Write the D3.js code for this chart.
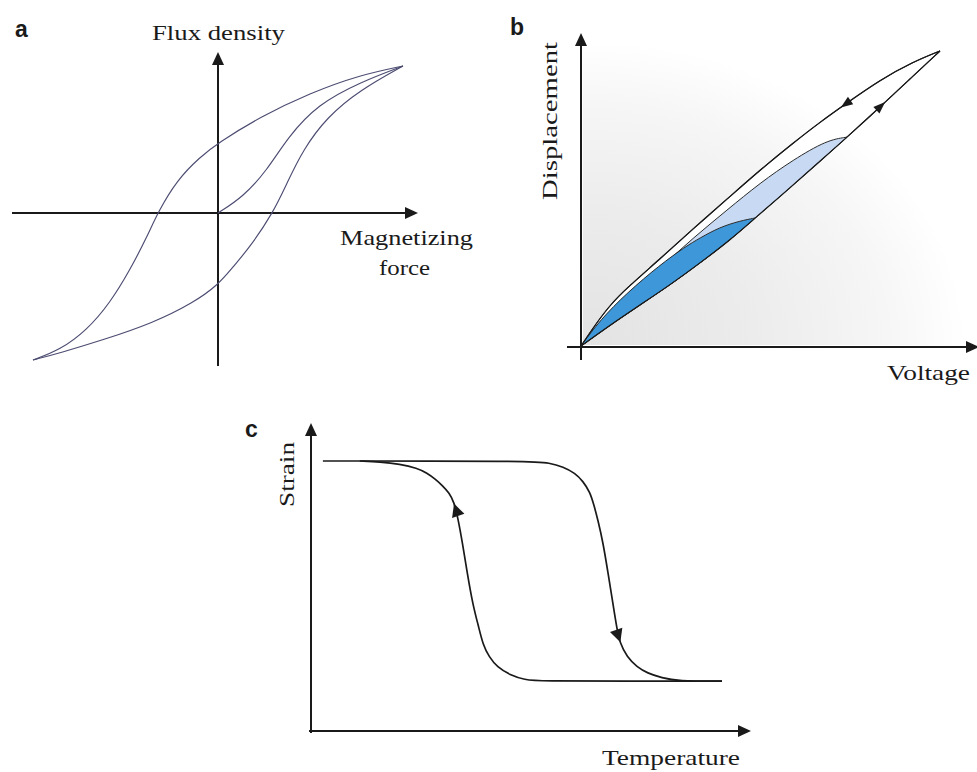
<!DOCTYPE html>
<html><head><meta charset="utf-8">
<script src="https://cdn.jsdelivr.net/npm/d3@7"></script>
<style>body{margin:0;background:#fff}svg{display:block}</style>
</head><body>
<svg id="chart" width="977" height="772"></svg>
<script>
// ---------- Panel a: magnetic hysteresis (H, B), normalised units ----------
const magUpperBranch = [[1,1],[0.768,0.939],[0.497,0.816],[0.227,0.653],[0,0.476],[-0.097,0.381],[-0.222,0.224],[-0.324,0.007],[-0.384,-0.163],[-0.476,-0.388],[-0.584,-0.612],[-0.708,-0.796],[-0.854,-0.932],[-1,-1]];
const magLowerBranch = [[-1,-1],[-0.854,-0.952],[-0.622,-0.864],[-0.351,-0.748],[-0.135,-0.612],[0,-0.49],[0.081,-0.367],[0.173,-0.231],[0.297,0],[0.373,0.204],[0.459,0.429],[0.589,0.653],[0.768,0.837],[1,1]];
const magInitialCurve = [[0,0],[0.135,0.109],[0.265,0.29],[0.378,0.517],[0.54,0.74],[0.768,0.89],[1,1]];

// ---------- Panel b: piezo displacement vs voltage, normalised ----------
const piezoAscending = [[0,0],[0.081,0.071],[0.164,0.139],[0.248,0.207],[0.331,0.281],[0.415,0.359],[0.485,0.434],[0.582,0.536],[0.666,0.627],[0.741,0.708],[0.833,0.81],[0.916,0.905],[1,1]];
const piezoOuterDescending = [[1,1],[0.925,0.963],[0.833,0.902],[0.741,0.824],[0.666,0.759],[0.591,0.688],[0.499,0.597],[0.407,0.498],[0.312,0.397],[0.22,0.295],[0.128,0.197],[0.081,0.139],[0.039,0.071],[0,0]];
const piezoMiddleDescending = [[0.741,0.708],[0.685,0.698],[0.591,0.631],[0.499,0.553],[0.407,0.461],[0.312,0.366],[0.22,0.264],[0.128,0.169],[0.067,0.105],[0,0]];
const piezoInnerDescending = [[0.485,0.434],[0.443,0.424],[0.387,0.403],[0.331,0.366],[0.29,0.336],[0.22,0.275],[0.128,0.18],[0.053,0.088],[0,0]];
const piezoArrowX = [0.724, 0.847];   // on descending outer, on ascending branch

// ---------- Panel c: SMA strain vs temperature ----------
const smaHeating = [[2.7,87.1],[49.8,87.1],[54.3,86.5],[57.3,85.2],[60.0,83.2],[61.8,80.6],[63.4,77.1],[64.3,72.9],[65.2,68.1],[66.4,60.6],[67.5,51.0],[68.6,41.3],[69.5,33.2],[70.2,28.4],[71.8,23.9],[74.1,20.6],[76.4,18.7],[79.8,17.1],[83.2,16.1],[93.4,16.1]];
const smaCooling = [[93.4,16.1],[72.0,16.1],[52.0,16.1],[48.6,16.5],[45.2,18.1],[42.3,20.6],[40.5,23.9],[39.1,27.7],[38.0,34.2],[36.8,40.6],[35.5,51.0],[34.5,60.0],[33.4,68.7],[32.5,73.9],[31.4,76.8],[30.0,79.0],[28.2,81.3],[26.4,83.2],[24.1,84.8],[20.2,86.1],[15.7,86.8],[11.1,87.1]];
const smaArrowX = [70.3, 32.5];       // on heating, on cooling

const panelLabels = ["a", "b", "c"];
const axisTitles = {a: ["Flux density", "Magnetizing", "force"], b: ["Displacement", "Voltage"], c: ["Strain", "Temperature"]};

// ---------- drawing ----------
const svg = d3.select("#chart");
const serif = "'Liberation Serif','Times New Roman',serif";
const ink = "#1a1a1a";

function arrowHead(g, tip, angle, len, wid, color) {
  const dx = Math.cos(angle), dy = Math.sin(angle);
  const bx = tip[0] - dx * len, by = tip[1] - dy * len;
  const px = -dy * wid / 2, py = dx * wid / 2;
  g.append("path")
    .attr("d", `M${tip[0]},${tip[1]}L${bx+px},${by+py}L${bx-px},${by-py}Z`)
    .attr("fill", color || ink);
}
function axisArrow(g, x1, y1, x2, y2) {
  const ang = Math.atan2(y2 - y1, x2 - x1);
  g.append("line").attr("x1", x1).attr("y1", y1)
    .attr("x2", x2 - Math.cos(ang) * 8).attr("y2", y2 - Math.sin(ang) * 8)
    .attr("stroke", ink).attr("stroke-width", 2);
  arrowHead(g, [x2, y2], ang, 13, 12);
}
function arrowOnPath(g, pathSel, targetX, len, wid) {
  const node = pathSel.node();
  const total = node.getTotalLength();
  let best = 0, bestD = 1e9;
  for (let l = 0; l <= total; l += 0.5) {
    const p = node.getPointAtLength(l);
    const d = Math.abs(p.x - targetX);
    if (d < bestD) { bestD = d; best = l; }
  }
  const p = node.getPointAtLength(best);
  const a = node.getPointAtLength(Math.max(0, best - 2));
  const b = node.getPointAtLength(Math.min(total, best + 2));
  arrowHead(g, [p.x, p.y], Math.atan2(b.y - a.y, b.x - a.x), len, wid);
}
function label(text, x, y, len, rotate) {
  const t = svg.append("text").text(text)
    .attr("font-family", serif).attr("font-size", 21).attr("fill", ink)
    .attr("textLength", len).attr("lengthAdjust", "spacingAndGlyphs");
  if (rotate) t.attr("transform", `translate(${x},${y}) rotate(-90)`);
  else t.attr("x", x).attr("y", y);
}
function panelLetter(t, x, y) {
  svg.append("text").text(t).attr("x", x).attr("y", y)
    .attr("font-family", "'Liberation Sans',Arial,sans-serif")
    .attr("font-weight", "bold").attr("font-size", 23).attr("fill", ink);
}

// ----- Panel a -----
{
  const x = d3.scaleLinear().domain([-1, 1]).range([33, 403]);
  const y = d3.scaleLinear().domain([-1, 1]).range([360, 66]);
  const g = svg.append("g");
  axisArrow(g, x(0), 366, x(0), 52);
  axisArrow(g, 12, y(0), 418, y(0));
  const line = d3.line().x(d => x(d[0])).y(d => y(d[1])).curve(d3.curveBasis);
  [magUpperBranch, magLowerBranch, magInitialCurve].forEach(data => {
    g.append("path").attr("d", line(data)).attr("fill", "none")
      .attr("stroke", "#4c4c72").attr("stroke-width", 1.15);
  });
  panelLetter(panelLabels[0], 15, 37);
  label(axisTitles.a[0], 152, 40, 133);
  label(axisTitles.a[1], 340, 245, 133);
  label(axisTitles.a[2], 379, 275, 51);
}

// ----- Panel b -----
{
  const x = d3.scaleLinear().domain([0, 1]).range([581, 940]);
  const y = d3.scaleLinear().domain([0, 1]).range([346, 51]);
  const defs = svg.append("defs");
  const rg = defs.append("radialGradient").attr("id", "bgShade")
    .attr("gradientUnits", "userSpaceOnUse").attr("cx", 585).attr("cy", 345).attr("r", 390)
    .attr("gradientTransform", "translate(585,345) scale(1.25,1) translate(-585,-345)");
  rg.append("stop").attr("offset", 0).attr("stop-color", "#e3e3e3");
  rg.append("stop").attr("offset", 0.35).attr("stop-color", "#ececec");
  rg.append("stop").attr("offset", 0.62).attr("stop-color", "#f6f6f6");
  rg.append("stop").attr("offset", 0.78).attr("stop-color", "#ffffff");
  const g = svg.append("g");
  g.append("rect").attr("x", 583).attr("y", 45).attr("width", 385).attr("height", 300).attr("fill", "url(#bgShade)");

  const line = d3.line().x(d => x(d[0])).y(d => y(d[1])).curve(d3.curveBasis);
  const loop = (asc, desc) => line(asc) + "L" + line(desc).slice(1) + "Z";
  const upTo = tx => piezoAscending.filter(d => d[0] <= tx + 1e-9);

  g.append("path").attr("d", loop(piezoAscending, piezoOuterDescending))
    .attr("fill", "#ffffff").attr("stroke", ink).attr("stroke-width", 1.1);
  g.append("path").attr("d", loop(upTo(piezoMiddleDescending[0][0]), piezoMiddleDescending))
    .attr("fill", "#c8daf3").attr("stroke", "#2a2a2a").attr("stroke-width", 1);
  g.append("path").attr("d", loop(upTo(piezoInnerDescending[0][0]), piezoInnerDescending))
    .attr("fill", "#3d97d8").attr("stroke", "#2a2a2a").attr("stroke-width", 1);

  const outerDesc = g.append("path").attr("d", line(piezoOuterDescending)).attr("fill", "none").attr("stroke", ink).attr("stroke-width", 1.1);
  const asc = g.append("path").attr("d", line(piezoAscending)).attr("fill", "none").attr("stroke", ink).attr("stroke-width", 1.1);
  arrowOnPath(g, outerDesc, x(piezoArrowX[0]), 12, 9);
  arrowOnPath(g, asc, x(piezoArrowX[1]), 12, 9);

  axisArrow(g, x(0), 360, x(0), 33);
  axisArrow(g, 567, y(0) + 1, 979, y(0) + 1);
  panelLetter(panelLabels[1], 510, 35);
  label(axisTitles.b[0], 557, 200, 158, true);
  label(axisTitles.b[1], 887, 380, 83);
}

// ----- Panel c -----
{
  const x = d3.scaleLinear().domain([0, 100]).range([311, 751]);
  const y = d3.scaleLinear().domain([0, 100]).range([731, 421]);
  const g = svg.append("g");
  axisArrow(g, x(0), 733, x(0), 423);
  axisArrow(g, 309, y(0), 751, y(0));
  const line = d3.line().x(d => x(d[0])).y(d => y(d[1])).curve(d3.curveBasis);
  const heat = g.append("path").attr("d", line(smaHeating)).attr("fill", "none").attr("stroke", ink).attr("stroke-width", 1.7);
  const cool = g.append("path").attr("d", line(smaCooling)).attr("fill", "none").attr("stroke", ink).attr("stroke-width", 1.7);
  arrowOnPath(g, heat, x(smaArrowX[0]), 13, 13);
  arrowOnPath(g, cool, x(smaArrowX[1]), 13, 13);
  panelLetter(panelLabels[2], 245, 437);
  label(axisTitles.c[0], 294, 507, 65, true);
  label(axisTitles.c[1], 602, 765, 138);
}
</script>
</body></html>
